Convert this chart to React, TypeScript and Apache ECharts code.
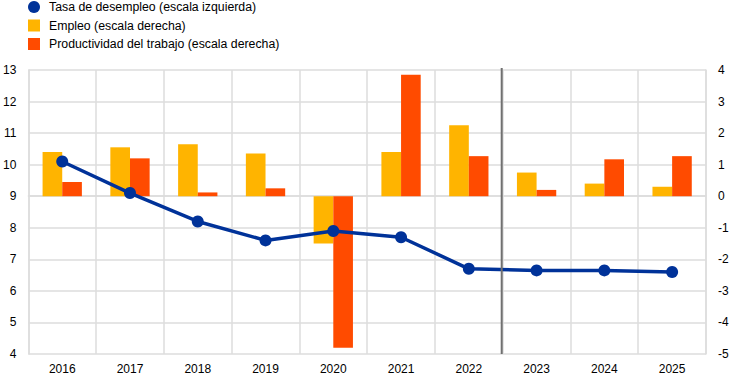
import React, { useEffect, useRef } from "react";
import * as echarts from "echarts";

const years = ["2016", "2017", "2018", "2019", "2020", "2021", "2022", "2023", "2024", "2025"];
const unemployment = [10.1, 9.1, 8.2, 7.6, 7.9, 7.7, 6.7, 6.65, 6.65, 6.6];
const employment = [1.4, 1.55, 1.65, 1.35, -1.5, 1.4, 2.25, 0.75, 0.4, 0.3];
const productivity = [0.45, 1.2, 0.12, 0.25, -4.8, 3.85, 1.27, 0.2, 1.17, 1.27];
const leftTicks = { min: 4, max: 13, interval: 1 };
const rightTicks = { min: -5, max: 4, interval: 1 };
const names = [
  "Tasa de desempleo (escala izquierda)",
  "Empleo (escala derecha)",
  "Productividad del trabajo (escala derecha)",
];

const FONT = "'Liberation Sans', Arial, sans-serif";
const GRID_COLOR = "#dcdcdc";

export default function App() {
  const ref = useRef<HTMLDivElement>(null);
  useEffect(() => {
    if (!ref.current) return;
    const chart = echarts.init(ref.current, null, { renderer: "svg" });
    chart.setOption({
      animation: false,
      textStyle: { fontFamily: FONT },
      legend: {
        orient: "vertical",
        left: 28,
        top: 1,
        padding: 0,
        itemWidth: 12,
        itemHeight: 12,
        itemGap: 6.5,
        textStyle: { fontFamily: FONT, fontSize: 12.3, color: "#000", padding: [0, 0, 0, 4] },
        data: [
          { name: names[0], icon: "circle" },
          { name: names[1], icon: "rect" },
          { name: names[2], icon: "rect" },
        ],
      },
      grid: { left: 28, right: 38, top: 70, bottom: 30, containLabel: false },
      xAxis: {
        type: "category",
        data: years,
        axisLine: { show: true, lineStyle: { color: GRID_COLOR, width: 1.5 } },
        axisTick: { show: false },
        axisLabel: { color: "#000", fontSize: 12, fontFamily: FONT, margin: 9 },
        splitLine: { show: true, lineStyle: { color: GRID_COLOR, width: 1.5 } },
      },
      yAxis: [
        {
          type: "value",
          position: "left",
          min: leftTicks.min,
          max: leftTicks.max,
          interval: leftTicks.interval,
          axisLine: { show: true, lineStyle: { color: GRID_COLOR, width: 1.5 } },
          axisTick: { show: false },
          axisLabel: { color: "#000", fontSize: 12, fontFamily: FONT, margin: 12 },
          splitLine: { show: true, lineStyle: { color: GRID_COLOR, width: 1.5 } },
        },
        {
          type: "value",
          position: "right",
          min: rightTicks.min,
          max: rightTicks.max,
          interval: rightTicks.interval,
          axisLine: { show: true, lineStyle: { color: GRID_COLOR, width: 1.5 } },
          axisTick: { show: false },
          axisLabel: { color: "#000", fontSize: 12, fontFamily: FONT, margin: 12 },
          splitLine: { show: false },
        },
      ],
      series: [
        {
          name: names[1],
          type: "bar",
          yAxisIndex: 1,
          data: employment,
          barGap: "0%",
          barCategoryGap: "42%",
          itemStyle: { color: "#FFB400" },
          z: 2,
        },
        {
          name: names[2],
          type: "bar",
          yAxisIndex: 1,
          data: productivity,
          itemStyle: { color: "#FF4B00" },
          z: 2,
        },
        {
          name: names[0],
          type: "line",
          yAxisIndex: 0,
          data: unemployment,
          symbol: "circle",
          symbolSize: 12,
          lineStyle: { color: "#003299", width: 3.5 },
          itemStyle: { color: "#003299" },
          z: 5,
        },
      ],
    });

    const a = chart.convertToPixel({ xAxisIndex: 0 }, "2022") as number;
    const b = chart.convertToPixel({ xAxisIndex: 0 }, "2023") as number;
    const yTop = chart.convertToPixel({ yAxisIndex: 0 }, leftTicks.max) as number;
    const yBot = chart.convertToPixel({ yAxisIndex: 0 }, leftTicks.min) as number;
    const xm = (a + b) / 2 - 1;
    chart.setOption({
      graphic: [
        {
          type: "line",
          shape: { x1: xm, y1: yTop - 2, x2: xm, y2: yBot },
          style: { stroke: "#707070", lineWidth: 2 },
          z: 10,
        },
      ],
    });

    return () => chart.dispose();
  }, []);
  return (
    <div
      ref={ref}
      style={{ position: "absolute", left: 0, top: 0, width: 744, height: 384 }}
    />
  );
}
